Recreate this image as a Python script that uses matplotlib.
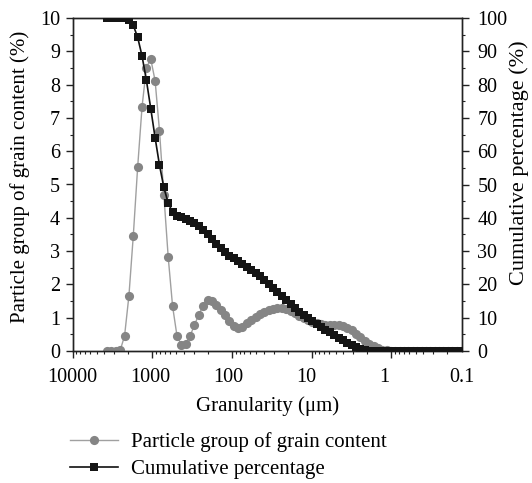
import matplotlib
matplotlib.use("Agg")
import matplotlib.pyplot as plt
from matplotlib.ticker import MultipleLocator, LogLocator, NullFormatter

# ---- data ----
size_um = [0.1349, 0.1530, 0.1736, 0.1969, 0.2234, 0.2534, 0.2875, 0.3262, 0.3700, 0.4198,
           0.4762, 0.5403, 0.6129, 0.6950, 0.7885, 0.8944, 1.015, 1.151, 1.306, 1.481,
           1.680, 1.906, 2.162, 2.453, 2.783, 3.157, 3.581, 4.063, 4.609, 5.229,
           5.932, 6.729, 7.632, 8.659, 9.822, 11.14, 12.64, 14.34, 16.27, 18.45,
           20.93, 23.75, 26.94, 30.56, 34.67, 39.33, 44.62, 50.61, 57.41, 65.13,
           73.89, 83.82, 95.07, 107.8, 122.4, 138.8, 157.4, 178.6, 202.6, 229.8,
           260.8, 295.8, 335.6, 380.6, 431.8, 489.8, 555.7, 630.4, 715.1, 811.2,
           920.2, 1044, 1184, 1343, 1524, 1729, 1961, 2225, 2524, 2863,
           3248, 3684]

grain_content = [0, 0, 0, 0, 0, 0, 0, 0, 0, 0,
                 0, 0, 0, 0, 0, 0, 0.01, 0.02, 0.04, 0.08,
                 0.14, 0.22, 0.31, 0.41, 0.52, 0.62, 0.70, 0.75, 0.77, 0.78,
                 0.78, 0.79, 0.81, 0.84, 0.88, 0.93, 0.99, 1.06, 1.13, 1.20,
                 1.25, 1.28, 1.29, 1.27, 1.23, 1.17, 1.10, 1.02, 0.93, 0.83,
                 0.73, 0.68, 0.75, 0.90, 1.08, 1.23, 1.38, 1.51, 1.53, 1.36,
                 1.09, 0.78, 0.45, 0.20, 0.18, 0.46, 1.34, 2.81, 4.68, 6.61,
                 8.11, 8.77, 8.51, 7.33, 5.52, 3.46, 1.66, 0.45, 0.02, 0,
                 0, 0]

cumulative = [0, 0, 0, 0, 0, 0, 0, 0, 0, 0,
              0, 0, 0, 0, 0, 0, 0, 0, 0, 0,
              0, 0.1, 0.3, 0.6, 1.1, 1.8, 2.5, 3.2, 4.0, 4.8,
              5.6, 6.4, 7.2, 8.0, 8.9, 9.8, 10.8, 11.8, 12.9, 14.0,
              15.2, 16.4, 17.6, 18.9, 20.1, 21.3, 22.4, 23.4, 24.4, 25.3,
              26.1, 26.9, 27.8, 28.6, 29.7, 30.9, 32.2, 33.6, 35.0, 36.3,
              37.5, 38.4, 39.1, 39.6, 40.1, 40.4, 41.7, 44.4, 49.1, 55.8,
              64.0, 72.8, 81.3, 88.6, 94.2, 97.8, 99.5, 99.9, 100, 100,
              100, 100]

x_tick_labels = ["10000", "1000", "100", "10", "1", "0.1"]
series_names = ["Particle group of grain content", "Cumulative percentage"]

FONT = "Liberation Serif"
FS = 15

fig = plt.figure(figsize=(5.32, 4.83), dpi=100)
ax = fig.add_axes([72.5 / 532, 1 - 351 / 483, (462 - 72.5) / 532, (351 - 18) / 483])

l1, = ax.plot(size_um, grain_content, color="#a0a0a0", lw=1.0, marker="o", ms=6.6,
              mfc="#858585", mec="#858585", mew=0, zorder=3)
ax.set_xscale("log")
ax.set_xlim(10000, 0.1306)
ax.set_ylim(0, 10)
ax.xaxis.set_major_locator(LogLocator(base=10, numticks=20))
ax.xaxis.set_minor_locator(LogLocator(base=10, subs=range(2, 10), numticks=20))
ax.xaxis.set_major_formatter(NullFormatter())
ax.xaxis.set_minor_formatter(NullFormatter())
ax.yaxis.set_major_locator(MultipleLocator(1))
ax.yaxis.set_minor_locator(MultipleLocator(0.5))

ax2 = ax.twinx()
l2, = ax2.plot(size_um, cumulative, color="#111111", lw=1.2, marker="s", ms=6.0,
               mfc="#151515", mec="#151515", mew=0, zorder=3)
ax2.set_ylim(0, 100)
ax2.yaxis.set_major_locator(MultipleLocator(10))
ax2.yaxis.set_minor_locator(MultipleLocator(5))

for a in (ax, ax2):
    for s in a.spines.values():
        s.set_linewidth(1.0)
        s.set_color("#222222")

ax.tick_params(axis="both", which="major", direction="out", length=5, width=1.0,
               color="#222222", labelsize=FS - 0.5, pad=4)
ax.tick_params(axis="both", which="minor", direction="out", length=2.5, width=0.8,
               color="#222222")
ax.tick_params(axis="x", which="both", top=False)
ax2.tick_params(axis="y", which="major", direction="out", length=5, width=1.0,
                color="#222222", labelsize=FS - 0.5, pad=6)
ax2.tick_params(axis="y", which="minor", direction="out", length=2.5, width=0.8,
                color="#222222")

for lab in ax.get_yticklabels() + ax2.get_yticklabels():
    lab.set_fontfamily(FONT)

# x tick labels (typeset evenly under the axis as in the reference)
for k, t in enumerate(x_tick_labels):
    ax.text(k / (len(x_tick_labels) - 1), -0.05, t, transform=ax.transAxes,
            ha="center", va="top", fontsize=FS - 0.5, family=FONT)

ax.set_xlabel("Granularity (\u03bcm)", fontsize=FS, family=FONT)
ax.xaxis.set_label_coords(0.5, -0.135)
fig.text(20 / 532, 1 - 176.5 / 483, "Particle group of grain content (%)", rotation=90,
         ha="center", va="center", fontsize=FS, family=FONT)
fig.text(519 / 532, 1 - 163 / 483, "Cumulative percentage (%)", rotation=90,
         ha="center", va="center", fontsize=16, family=FONT)

fig.legend([l1, l2], series_names, loc="upper left", bbox_to_anchor=(70 / 532, 1 - 432 / 483),
           bbox_transform=fig.transFigure, frameon=False, borderpad=0, borderaxespad=0,
           handlelength=2.3, handletextpad=0.65, labelspacing=0.36,
           prop={"family": FONT, "size": FS})

fig.savefig("out.png", dpi=100)
